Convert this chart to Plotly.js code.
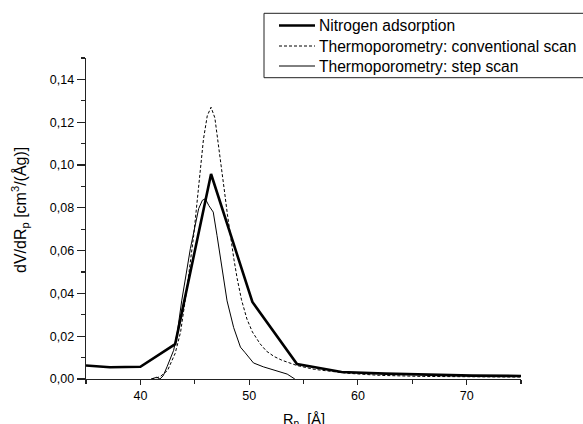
<!DOCTYPE html>
<html>
<head>
<meta charset="utf-8">
<script src="https://cdn.plot.ly/plotly-3.0.1.min.js"></script>
<style>html,body{margin:0;padding:0;background:#fff;}#chart{width:583px;height:424px;}</style>
</head>
<body>
<div id="chart"></div>
<script>
// Nitrogen adsorption
var n2X = [35, 37.2, 40, 43.2, 46.5, 50.3, 54.4, 58.5, 62.5, 66.5, 70.5, 75];
var n2Y = [0.0063, 0.0055, 0.0057, 0.0163, 0.0958, 0.0360, 0.0070, 0.0033, 0.0025, 0.0020, 0.0016, 0.0014];

// Thermoporometry: conventional scan
var convX = [41.0, 41.8, 42.5, 43.2, 43.7, 44.3, 44.9, 45.35, 45.8, 46.15, 46.5, 46.85, 47.1, 47.4, 47.7, 48.0, 48.3, 48.6, 48.9, 49.3, 49.8, 50.3, 51.0, 51.6, 52.3, 53.0, 54.4, 56, 59, 62, 66, 70, 75];
var convY = [0.0, 0.001, 0.004, 0.012, 0.022, 0.043, 0.067, 0.090, 0.112, 0.123, 0.127, 0.122, 0.113, 0.101, 0.089, 0.077, 0.066, 0.056, 0.047, 0.037, 0.028, 0.022, 0.0165, 0.013, 0.0105, 0.0088, 0.0063, 0.0045, 0.0027, 0.0017, 0.0012, 0.0010, 0.0009];

// Thermoporometry: step scan
var stepX = [41.0, 41.5, 41.8, 42.1, 42.45, 43.06, 43.4, 43.8, 44.6, 45.36, 45.7, 45.97, 46.3, 46.7, 47.05, 47.5, 47.97, 48.58, 49.2, 49.6, 49.96, 50.4, 51.3, 52.3, 53.5, 54.2];
var stepY = [0.0, 0.0008, 0.0, 0.0015, 0.0057, 0.0134, 0.022, 0.0365, 0.061, 0.0796, 0.0835, 0.0842, 0.081, 0.078, 0.067, 0.052, 0.0365, 0.024, 0.0149, 0.0125, 0.0103, 0.0075, 0.0057, 0.0042, 0.0023, 0.0];

var seriesNames = ["Nitrogen adsorption", "Thermoporometry: conventional scan", "Thermoporometry: step scan"];
var xTitle = "R<sub>p</sub>  [Å]";
var yTitle = "dV/dR<sub>p</sub> [cm<sup>3</sup>/(Åg)]";

var FONT = "Liberation Sans, Arial, sans-serif";
var lineStyles = [
  {color: "#000", width: 2.6, dash: "solid"},
  {color: "#000", width: 1, dash: "3px,2px"},
  {color: "#000", width: 1, dash: "solid"}
];

var traces = [
  {x: n2X, y: n2Y, mode: "lines", name: seriesNames[0], line: lineStyles[0], showlegend: false},
  {x: convX, y: convY, mode: "lines", name: seriesNames[1], line: lineStyles[1], showlegend: false},
  {x: stepX, y: stepY, mode: "lines", name: seriesNames[2], line: lineStyles[2], showlegend: false}
];

// plot area in pixels: x 86..521, y 58..379
var L = 86, R = 521, T = 58, B = 379;
function px(p) { return (p - L) / (R - L); }
function py(p) { return (B - p) / (B - T); }

var shapes = [
  {type: "rect", xref: "paper", yref: "paper", x0: px(264), x1: px(600), y0: py(77.7), y1: py(13.3),
   line: {color: "#222", width: 1}, fillcolor: "rgba(0,0,0,0)"}
];
var annotations = [];
var rows = [25.5, 46, 66];
for (var i = 0; i < 3; i++) {
  shapes.push({type: "line", xref: "paper", yref: "paper", x0: px(279), x1: px(315), y0: py(rows[i]), y1: py(rows[i]),
    line: {color: "#000", width: lineStyles[i].width, dash: lineStyles[i].dash}});
  annotations.push({xref: "paper", yref: "paper", x: px(317), y: py(rows[i]), xanchor: "left", yanchor: "middle",
    text: seriesNames[i], showarrow: false, font: {family: FONT, size: 15.6, color: "#000"}});
}
annotations.push({xref: "paper", yref: "paper", x: px(20), y: py(210), textangle: -90, xanchor: "center", yanchor: "middle",
  text: yTitle, showarrow: false, font: {family: FONT, size: 16, color: "#000"}});
annotations.push({xref: "paper", yref: "paper", x: 0.5, y: py(409), xanchor: "center", yanchor: "top",
  text: xTitle, showarrow: false, font: {family: FONT, size: 14.5, color: "#000"}});

var layout = {
  width: 583, height: 424,
  margin: {l: L, r: 583 - R, t: T, b: 424 - B, pad: 0},
  paper_bgcolor: "#fff", plot_bgcolor: "#fff",
  separators: ",.",
  showlegend: false,
  font: {family: FONT, size: 12.5, color: "#000"},
  xaxis: {
    range: [35, 75], tick0: 0, dtick: 10, ticks: "outside", ticklen: 5, tickwidth: 1.2, tickcolor: "#222",
    showline: true, linecolor: "#222", linewidth: 1.3, showgrid: false, zeroline: false,
    minor: {dtick: 5, ticks: "outside", ticklen: 4, tickwidth: 1.2, tickcolor: "#222", showgrid: false},
    tickfont: {family: FONT, size: 12.5, color: "#000"}
  },
  yaxis: {
    range: [0, 0.15], tick0: 0, dtick: 0.02, tickformat: ".2f", ticks: "outside", ticklen: 8, tickwidth: 1.2, tickcolor: "#222",
    showline: true, linecolor: "#222", linewidth: 1.3, showgrid: false, zeroline: false,
    minor: {dtick: 0.01, ticks: "outside", ticklen: 4, tickwidth: 1.2, tickcolor: "#222", showgrid: false},
    tickfont: {family: FONT, size: 12.5, color: "#000"}
  },
  shapes: shapes,
  annotations: annotations
};

Plotly.newPlot("chart", traces, layout, {displayModeBar: false, staticPlot: true});
</script>
</body>
</html>
